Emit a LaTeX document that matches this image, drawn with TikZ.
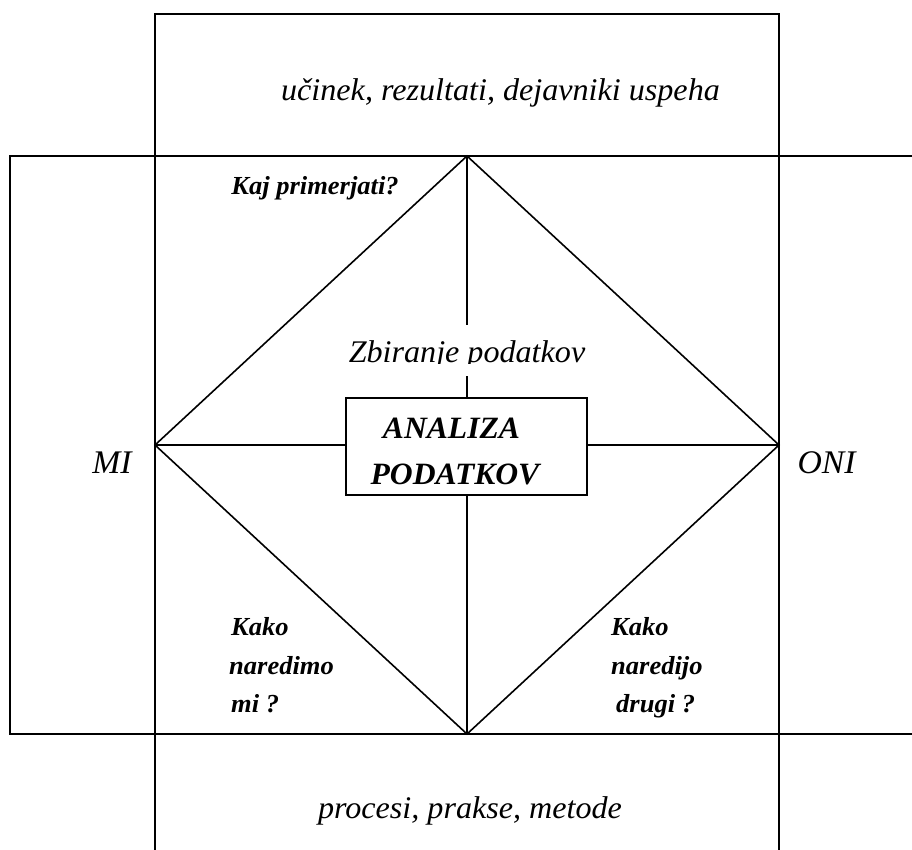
\documentclass[tikz,border=0pt]{standalone}
\usepackage{fontspec}
\usepackage{graphicx}
\setmainfont{Liberation Serif}
\newcommand{\hstretch}[1]{\scalebox{1.02}[1]{#1}}
\tikzset{
  frame/.style={line width=1.9pt},
  diag/.style={line width=1.6pt},
  lab/.style={font=\fontsize{31.5}{34}\selectfont\itshape, inner sep=0pt},
  side/.style={font=\fontsize{33}{36}\selectfont\itshape, inner sep=0pt},
  qst/.style={font=\fontsize{26}{29}\selectfont\bfseries\itshape, inner sep=0pt},
  big/.style={font=\fontsize{31}{34}\selectfont\bfseries\itshape, inner sep=0pt},
}
\begin{document}
\begin{tikzpicture}[x=1pt,y=-1pt]
\useasboundingbox (0,0) rectangle (912,849);
\clip (0,0) rectangle (912,849);
\fill[white] (0,0) rectangle (912,849);
% outer frames
\draw[frame] (155,14) rectangle (779,870);
\draw[frame] (10,156) rectangle (930,734);
% diamond vertices
\coordinate (T) at (467,156);
\coordinate (B) at (467,734);
\coordinate (L) at (155,445);
\coordinate (R) at (779,445);
\draw[diag] (T) -- (R) -- (B) -- (L) -- cycle;
% central box
\node[draw, line width=2.8pt, minimum width=241pt, minimum height=97pt, inner sep=0pt] (box) at (466.5,446.5) {};
\coordinate (gapT) at (467,325);
\coordinate (gapB) at (467,376);
\draw[diag] (T) -- (gapT);
\draw[diag] (gapB) -- (gapB |- box.north);
\draw[diag] (T |- box.south) -- (B);
\draw[diag] (L) -- (L -| box.west);
\draw[diag] (R -| box.east) -- (R);
% texts
\node[lab, anchor=base] (top) at (500.5,100) {\hstretch{učinek, rezultati, dejavniki uspeha}};
\node[lab, anchor=base] (bot) at (470,818) {\hstretch{procesi, prakse, metode}};
\node[side, anchor=base] (mi) at (112,473) {\hstretch{MI}};
\node[side, anchor=base] (oni) at (826.5,473) {\hstretch{ONI}};
\node[qst, anchor=base] (kaj) at (315,194) {\hstretch{Kaj primerjati?}};
\begin{scope}
\clip (300,325) rectangle (640,363.5);
\node[lab, anchor=base] (zb) at (467,362) {\hstretch{Zbiranje podatkov}};
\end{scope}
\node[big, anchor=base] (an) at (451.5,438) {\hstretch{ANALIZA}};
\begin{scope}
\clip (350,450) rectangle (584,485);
\node[big, anchor=base] (pod) at (455,484) {\hstretch{PODATKOV}};
\end{scope}
\node[qst, anchor=base west] (k1) at (231,635) {\hstretch{Kako}};
\node[qst, anchor=base west] (k2) at (229,674) {\hstretch{naredimo}};
\node[qst, anchor=base west] (k3) at (231,712) {\hstretch{mi ?}};
\node[qst, anchor=base west] (k4) at (611,635) {\hstretch{Kako}};
\node[qst, anchor=base west] (k5) at (611,674) {\hstretch{naredijo}};
\node[qst, anchor=base west] (k6) at (616,712) {\hstretch{drugi ?}};
\end{tikzpicture}
\end{document}
